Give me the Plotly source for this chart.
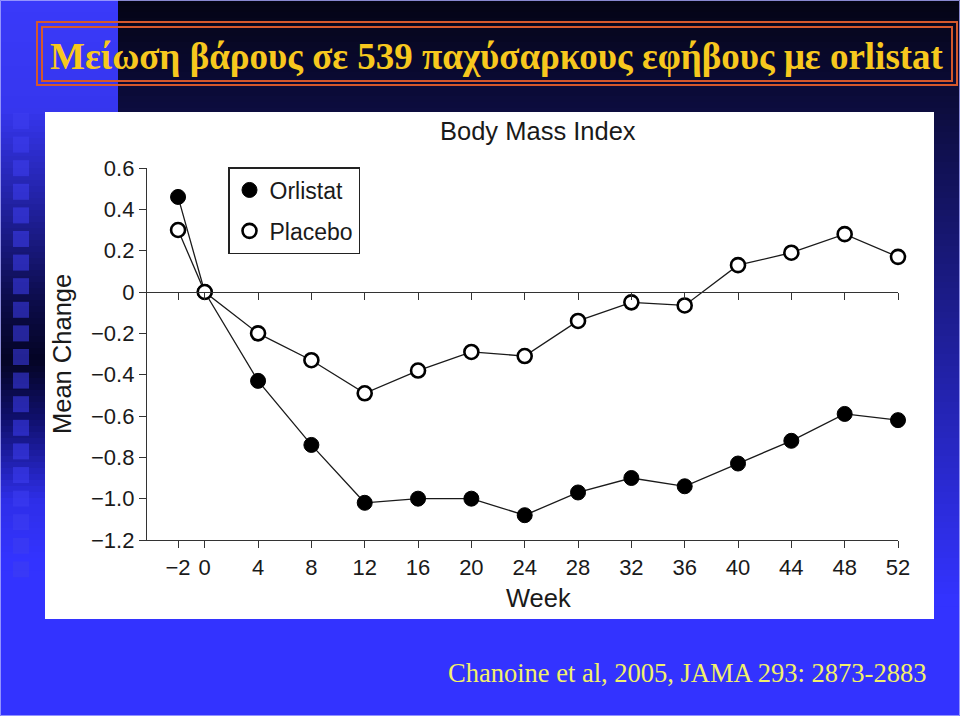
import plotly.graph_objects as go

# ---------------- data ----------------
weeks = [-2, 0, 4, 8, 12, 16, 20, 24, 28, 32, 36, 40, 44, 48, 52]
orlistat = [0.46, 0.0, -0.43, -0.74, -1.02, -1.00, -1.00, -1.08, -0.97, -0.90, -0.94, -0.83, -0.72, -0.59, -0.62]
placebo = [0.30, 0.0, -0.20, -0.33, -0.49, -0.38, -0.29, -0.31, -0.14, -0.05, -0.065, 0.13, 0.19, 0.28, 0.17]
x_ticks = [-2, 0, 4, 8, 12, 16, 20, 24, 28, 32, 36, 40, 44, 48, 52]
x_tick_text = ["\u22122", "0", "4", "8", "12", "16", "20", "24", "28", "32", "36", "40", "44", "48", "52"]
y_ticks = [0.6, 0.4, 0.2, 0, -0.2, -0.4, -0.6, -0.8, -1.0, -1.2]
y_tick_text = ["0.6", "0.4", "0.2", "0", "\u22120.2", "\u22120.4", "\u22120.6", "\u22120.8", "\u22121.0", "\u22121.2"]

slide_title = "Μείωση βάρους σε 539 παχύσαρκους εφήβους με orlistat"
chart_title = "Body Mass Index"
citation = "Chanoine et al, 2005, JAMA 293: 2873-2883"

# ---------------- geometry (pixels) ----------------
W, H = 960, 716
L, R, T, B = 147, 898, 168, 540


def px(x):
    return (x - L) / (R - L)


def py(y):
    return (B - y) / (B - T)


def lerp(c1, c2, t):
    t = max(0.0, min(1.0, t))
    return tuple(int(round(a + (b - a) * t)) for a, b in zip(c1, c2))


def rgb(c):
    return "rgb(%d,%d,%d)" % c


shapes = []

# main background gradient (dark navy -> bright blue)
top_c, bot_c = (4, 4, 20), (51, 51, 255)
step = 6
for y0 in range(0, 606, step):
    c = lerp(top_c, bot_c, (y0 + step / 2) / 600.0)
    shapes.append(dict(type="rect", xref="paper", yref="paper", layer="below",
                       x0=px(116), x1=px(W + 2), y0=py(y0), y1=py(y0 + step + 0.5),
                       fillcolor=rgb(c), line=dict(width=0)))

# left decorative strip
keys = [(0, (58, 58, 250)), (110, (54, 54, 238)), (200, (34, 34, 165)), (300, (12, 12, 75)),
        (360, (4, 4, 36)), (420, (16, 16, 110)), (500, (46, 46, 232)), (560, (51, 51, 255))]
for y0 in range(0, 566, step):
    yc = y0 + step / 2
    for (ya, ca), (yb, cb) in zip(keys[:-1], keys[1:]):
        if ya <= yc <= yb:
            c = lerp(ca, cb, (yc - ya) / (yb - ya))
            break
    else:
        c = keys[-1][1]
    shapes.append(dict(type="rect", xref="paper", yref="paper", layer="below",
                       x0=px(-2), x1=px(118), y0=py(y0), y1=py(y0 + step + 0.5),
                       fillcolor=rgb(c), line=dict(width=0)))
for k in range(20):
    ys = 113 + 23.6 * k
    shapes.append(dict(type="rect", xref="paper", yref="paper", layer="below",
                       x0=px(13), x1=px(29), y0=py(ys), y1=py(ys + 16),
                       fillcolor="rgba(62,62,240,0.55)", line=dict(width=0)))

# white chart panel
shapes.append(dict(type="rect", xref="paper", yref="paper", layer="below",
                   x0=px(45), x1=px(934), y0=py(112), y1=py(619),
                   fillcolor="white", line=dict(width=0)))

# title double frame
shapes.append(dict(type="rect", xref="paper", yref="paper", layer="above",
                   x0=px(37), x1=px(957), y0=py(22), y1=py(85),
                   line=dict(color="#d4582c", width=2)))
shapes.append(dict(type="rect", xref="paper", yref="paper", layer="above",
                   x0=px(42), x1=px(952), y0=py(27), y1=py(81),
                   line=dict(color="#d4582c", width=2)))

# faint slide border
shapes.append(dict(type="rect", xref="paper", yref="paper", layer="above",
                   x0=px(0.5), x1=px(959.5), y0=py(0.5), y1=py(715.5),
                   line=dict(color="rgba(170,170,255,0.8)", width=1)))

fig = go.Figure()

line_style = dict(color="#1a1a1a", width=1.3)
fig.add_trace(go.Scatter(x=weeks, y=orlistat, mode="lines+markers", name="Orlistat",
                         line=line_style, showlegend=False, cliponaxis=False,
                         marker=dict(size=15, color="black", line=dict(color="black", width=1))))
fig.add_trace(go.Scatter(x=weeks, y=placebo, mode="lines+markers", name="Placebo",
                         line=line_style, showlegend=False, cliponaxis=False,
                         marker=dict(size=14, color="white", line=dict(color="black", width=2.6))))
# legend entries (marker only)
fig.add_trace(go.Scatter(x=[None], y=[None], mode="markers", name="Orlistat", xaxis="x2",
                         legendgroup="a",
                         marker=dict(size=15, color="black", line=dict(color="black", width=1))))
fig.add_trace(go.Scatter(x=[None], y=[None], mode="markers", name="Placebo", xaxis="x2",
                         legendgroup="b",
                         marker=dict(size=14, color="white", line=dict(color="black", width=2.6))))

sans = "Liberation Sans, Arial, sans-serif"
axis_font = dict(family=sans, size=22, color="#1a1a1a")
fig.update_layout(
    width=W, height=H,
    margin=dict(l=L, r=W - R, t=T, b=H - B, pad=0),
    paper_bgcolor="rgb(51,51,255)",
    plot_bgcolor="rgba(0,0,0,0)",
    shapes=shapes,
    xaxis=dict(range=[-4.33, 52], tickvals=x_ticks, ticktext=x_tick_text,
               showgrid=False, zeroline=False, showline=True, linecolor="#333", linewidth=1.3,
               ticks="outside", ticklen=7, tickwidth=1.3, tickcolor="#333",
               tickfont=axis_font, fixedrange=True),
    xaxis2=dict(overlaying="x", matches="x", anchor="free", position=py(292),
                range=[-4.33, 52], tickvals=x_ticks, showticklabels=False,
                showgrid=False, zeroline=False, showline=True, linecolor="#333", linewidth=1.3,
                ticks="outside", ticklen=7, tickwidth=1.3, tickcolor="#333"),
    yaxis=dict(range=[-1.2, 0.6], tickvals=y_ticks, ticktext=y_tick_text,
               showgrid=False, zeroline=False, showline=True, linecolor="#333", linewidth=1.3,
               ticks="outside", ticklen=7, tickwidth=1.3, tickcolor="#333",
               tickfont=axis_font, fixedrange=True),
    legend=dict(x=px(228), y=py(167), xanchor="left", yanchor="top",
                bgcolor="white", bordercolor="#222", borderwidth=1.5,
                font=dict(family=sans, size=23, color="#1a1a1a"),
                tracegroupgap=8, itemwidth=30),
    showlegend=True,
    annotations=[
        dict(text="<b>" + slide_title + "</b>", xref="paper", yref="paper", x=px(497), y=py(56),
             xanchor="center", yanchor="middle", showarrow=False,
             font=dict(family="Liberation Serif, Times New Roman, serif", size=37, color="#f7c81e")),
        dict(text=chart_title, xref="paper", yref="paper", x=px(538), y=py(131),
             xanchor="center", yanchor="middle", showarrow=False,
             font=dict(family=sans, size=25.5, color="#1a1a1a")),
        dict(text="Week", xref="paper", yref="paper", x=px(538), y=py(598),
             xanchor="center", yanchor="middle", showarrow=False,
             font=dict(family=sans, size=25.5, color="#1a1a1a")),
        dict(text="Mean Change", xref="paper", yref="paper", x=px(62), y=py(354),
             xanchor="center", yanchor="middle", showarrow=False, textangle=-90,
             font=dict(family=sans, size=25.5, color="#1a1a1a")),
        dict(text=citation, xref="paper", yref="paper", x=px(928), y=py(673),
             xanchor="right", yanchor="middle", showarrow=False,
             font=dict(family="Liberation Serif, Times New Roman, serif", size=26.5, color="#f2f06a")),
    ],
)

fig.write_html("out.html")
